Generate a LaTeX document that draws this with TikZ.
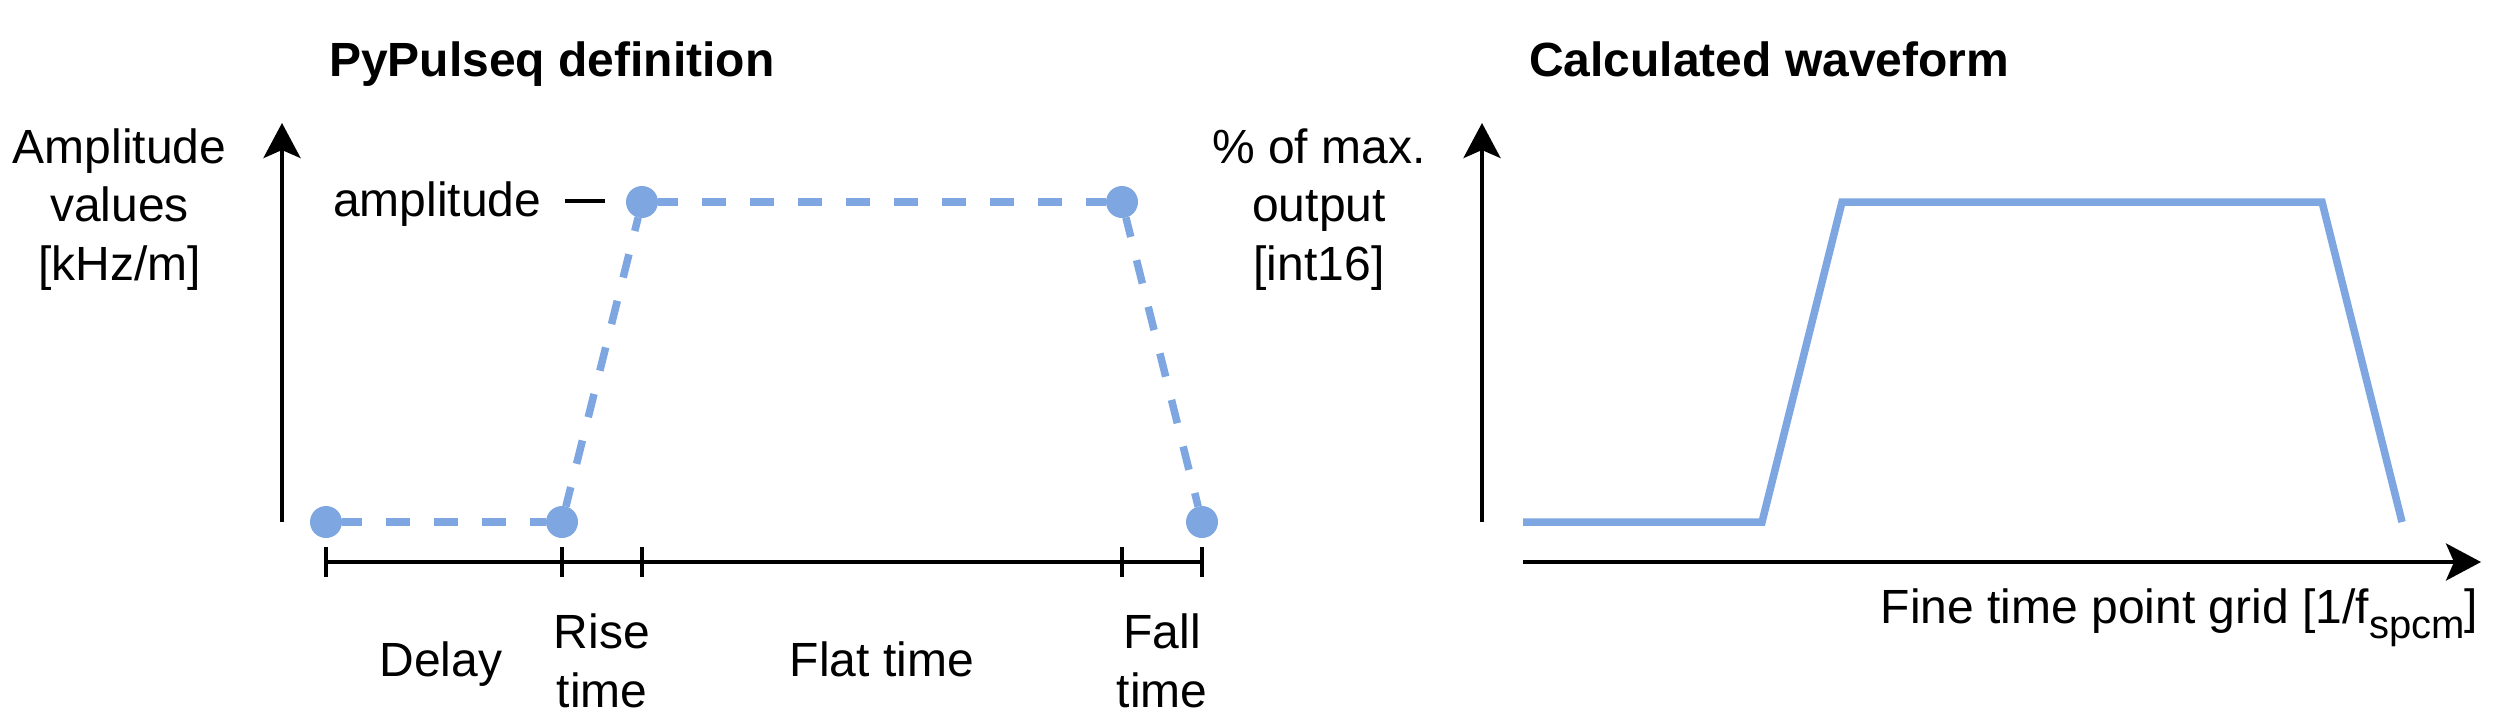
\documentclass[tikz,border=0pt]{standalone}
\usepackage{fontspec}
\setmainfont{Liberation Sans}
\usetikzlibrary{arrows.meta}
\definecolor{wave}{HTML}{7EA6E0}
\begin{document}
\begin{tikzpicture}[x=0.5pt,y=-0.5pt,
  lbl/.style={inner sep=0pt, outer sep=0pt, font=\fontsize{24}{29}\selectfont, anchor=base},
  ttl/.style={inner sep=0pt, outer sep=0pt, font=\fontsize{24}{29}\selectfont\bfseries, anchor=base west},
  axisline/.style={line width=2pt, black},
  axisarrow/.style={axisline, -{Stealth[length=17.5pt,width=18.5pt,inset=4pt]}},
  wavedot/.style={circle, fill=wave, inner sep=0pt, outer sep=0pt, minimum size=16pt},
  defline/.style={line width=3.75pt, wave, dash pattern=on 12pt off 12pt, dash phase=2pt},
  calcline/.style={line width=3.75pt, wave}
]
\useasboundingbox (0,0) rectangle (2516,724);

% titles
\node[ttl] (t1) at (329,76) {PyPulseq definition};
\node[ttl] (t2) at (1529,76) {Calculated waveform};

% y-axis labels
\node[lbl] (ya1) at (119.5,163) {Amplitude};
\node[lbl] (ya2) at (119.5,221.5) {values};
\node[lbl] (ya3) at (119.5,280) {[kHz/m]};
\node[lbl] (yb1) at (1319,163) {\% of max.};
\node[lbl] (yb2) at (1319,221.5) {output};
\node[lbl] (yb3) at (1319,280) {[int16]};

\node[lbl, anchor=base west] (amp) at (333,216) {amplitude\hspace{12pt}\rule[6.5pt]{20pt}{2pt}};

% left axes
\coordinate (ly0) at (282,522);
\coordinate (ly1) at (282,123);
\draw[axisarrow] (ly0) -- (ly1);
\coordinate (lt0) at (326,562);
\coordinate (lt1) at (1202,562);
\draw[axisline] (lt0) -- (lt1);
\foreach \x [count=\i] in {326,562,642,1122,1202} {
  \coordinate (tk\i a) at (\x,547);
  \coordinate (tk\i b) at (\x,577);
  \draw[axisline] (tk\i a) -- (tk\i b);
}

% PyPulseq definition points
\node[wavedot] (d1) at (326,522) {};
\node[wavedot] (d2) at (562,522) {};
\node[wavedot] (d3) at (642,202) {};
\node[wavedot] (d4) at (1122,202) {};
\node[wavedot] (d5) at (1202,522) {};
\draw[defline] (d1) -- (d2);
\draw[defline] (d2) -- (d3);
\draw[defline] (d3) -- (d4);
\draw[defline] (d4) -- (d5);

% time labels
\node[lbl] (delay) at (441,676) {Delay};
\node[lbl] (rise1) at (602,648) {Rise};
\node[lbl] (rise2) at (602,707) {time};
\node[lbl] (flat) at (882,676) {Flat time};
\node[lbl] (fall1) at (1162,648) {Fall};
\node[lbl] (fall2) at (1162,707) {time};

% right axes
\coordinate (ry0) at (1482,522);
\coordinate (ry1) at (1482,123);
\draw[axisarrow] (ry0) -- (ry1);
\coordinate (rt0) at (1523,562);
\coordinate (rt1) at (2481,562);
\draw[axisarrow] (rt0) -- (rt1);

% calculated waveform
\coordinate (w0) at (1523,522);
\coordinate (w1) at (1762,522);
\coordinate (w2) at (1842,202);
\coordinate (w3) at (2322,202);
\coordinate (w4) at (2402,522);
\draw[calcline] (w0) -- (w1) -- (w2) -- (w3) -- (w4);

\node[lbl, anchor=base east] (grid) at (2478,623) {Fine time point grid [1/f\raisebox{-7.5pt}{\fontsize{20}{24}\selectfont spcm}]};
\end{tikzpicture}
\end{document}
